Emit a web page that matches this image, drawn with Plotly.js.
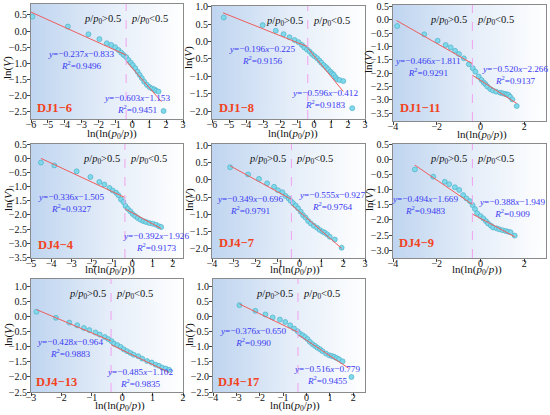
<!DOCTYPE html>
<html><head><meta charset="utf-8">
<script src="https://cdn.plot.ly/plotly-3.0.1.min.js"></script>
<style>body{margin:0;background:#fff}#chart{width:550px;height:415px}</style>
</head><body><div id="chart"></div>
<script>
// ---------- data ----------
const panelNames = ['DJ1−6','DJ1−8','DJ1−11','DJ4−4','DJ4−7','DJ4−9','DJ4−13','DJ4−17'];

const x_DJ1_6 = [-5.92,-3.82,-2.60,-1.95,-1.51,-1.25,-1.02,-0.82,-0.66,-0.52,-0.36,-0.23,-0.09,0.03,0.17,0.31,0.43,0.56,0.70,0.86,1.02,1.16,1.30,1.41,1.55,1.85];
const y_DJ1_6 = [0.45,0.14,-0.10,-0.25,-0.38,-0.43,-0.50,-0.59,-0.67,-0.74,-0.81,-0.90,-0.98,-1.06,-1.15,-1.26,-1.36,-1.46,-1.57,-1.67,-1.74,-1.78,-1.81,-1.85,-1.88,-2.48];

const x_DJ1_8 = [-5.31,-3.02,-2.25,-1.79,-1.44,-1.14,-0.91,-0.71,-0.57,-0.41,-0.26,-0.12,0.02,0.18,0.32,0.43,0.57,0.71,0.83,0.97,1.07,1.16,1.26,1.36,1.50,1.72,2.25];
const y_DJ1_8 = [0.69,0.47,0.31,0.21,0.12,0.04,-0.02,-0.10,-0.17,-0.23,-0.29,-0.36,-0.42,-0.48,-0.55,-0.61,-0.68,-0.74,-0.80,-0.87,-0.92,-0.96,-1.03,-1.09,-1.11,-1.14,-1.92];

const x_DJ1_11 = [-3.81,-2.57,-1.96,-1.59,-1.36,-1.16,-0.98,-0.76,-0.53,-0.35,-0.23,-0.08,0.05,0.15,0.23,0.32,0.45,0.57,0.72,0.91,1.01,1.13,1.21,1.28,1.36,1.46,1.66];
const y_DJ1_11 = [-0.23,-0.54,-0.78,-0.94,-1.03,-1.16,-1.28,-1.44,-1.66,-1.81,-1.94,-2.12,-2.25,-2.35,-2.41,-2.50,-2.59,-2.65,-2.69,-2.73,-2.75,-2.78,-2.79,-2.81,-2.88,-2.98,-3.23];

const x_DJ4_4 = [-4.51,-3.85,-2.75,-2.07,-1.63,-1.38,-1.13,-0.97,-0.80,-0.69,-0.56,-0.44,-0.34,-0.23,-0.10,0.02,0.14,0.27,0.40,0.55,0.68,0.84,1.01,1.17,1.31,1.42];
const y_DJ4_4 = [-0.14,-0.24,-0.45,-0.65,-0.83,-0.92,-1.04,-1.13,-1.21,-1.30,-1.45,-1.54,-1.68,-1.78,-1.87,-1.97,-2.04,-2.11,-2.17,-2.22,-2.25,-2.29,-2.31,-2.35,-2.40,-2.43];

const x_DJ4_7 = [-3.17,-2.35,-1.85,-1.48,-1.16,-0.98,-0.78,-0.63,-0.49,-0.40,-0.29,-0.17,-0.06,0.06,0.17,0.28,0.40,0.52,0.66,0.81,0.93,1.06,1.16,1.27,1.39,1.62,1.93];
const y_DJ4_7 = [0.37,0.16,0.03,-0.10,-0.20,-0.30,-0.36,-0.47,-0.54,-0.61,-0.68,-0.75,-0.83,-0.93,-1.03,-1.10,-1.20,-1.27,-1.34,-1.40,-1.46,-1.51,-1.54,-1.59,-1.66,-1.74,-1.98];

const x_DJ4_9 = [-3.00,-2.16,-1.63,-1.43,-1.17,-0.97,-0.79,-0.64,-0.48,-0.36,-0.25,-0.15,0.00,0.13,0.25,0.35,0.48,0.58,0.74,0.86,1.01,1.16,1.27,1.38,1.57];
const y_DJ4_9 = [-0.33,-0.57,-0.74,-0.82,-0.92,-1.01,-1.18,-1.29,-1.38,-1.51,-1.64,-1.78,-1.87,-1.95,-2.04,-2.12,-2.19,-2.25,-2.28,-2.31,-2.34,-2.37,-2.39,-2.41,-2.52];

const x_DJ4_13 = [-2.82,-2.18,-1.74,-1.48,-1.26,-1.08,-0.88,-0.74,-0.57,-0.46,-0.35,-0.27,-0.16,-0.05,0.05,0.16,0.27,0.38,0.53,0.66,0.82,0.97,1.10,1.21,1.32,1.43,1.54];
const y_DJ4_13 = [0.17,-0.03,-0.19,-0.28,-0.37,-0.44,-0.52,-0.59,-0.67,-0.74,-0.81,-0.89,-0.94,-1.00,-1.08,-1.14,-1.20,-1.26,-1.31,-1.39,-1.47,-1.52,-1.59,-1.63,-1.69,-1.72,-1.76];

const x_DJ4_17 = [-2.87,-2.19,-1.76,-1.45,-1.14,-0.91,-0.70,-0.53,-0.38,-0.28,-0.17,-0.06,0.04,0.14,0.26,0.37,0.47,0.58,0.68,0.83,0.97,1.08,1.18,1.28,1.39,1.54,1.92];
const y_DJ4_17 = [0.39,0.20,0.08,-0.02,-0.09,-0.17,-0.28,-0.39,-0.48,-0.56,-0.61,-0.67,-0.74,-0.83,-0.91,-0.97,-1.03,-1.08,-1.14,-1.22,-1.28,-1.30,-1.33,-1.37,-1.41,-1.48,-2.00];

const xData = [x_DJ1_6, x_DJ1_8, x_DJ1_11, x_DJ4_4, x_DJ4_7, x_DJ4_9, x_DJ4_13, x_DJ4_17];
const yData = [y_DJ1_6, y_DJ1_8, y_DJ1_11, y_DJ4_4, y_DJ4_7, y_DJ4_9, y_DJ4_13, y_DJ4_17];

// linear fits (p/p0 > 0.5 : low side; p/p0 < 0.5 : high side)
const slopeLow = [-0.237,-0.196,-0.466,-0.336,-0.349,-0.494,-0.428,-0.376];
const interceptLow = [-0.833,-0.225,-1.811,-1.505,-0.696,-1.669,-0.964,-0.650];
const r2Low = ['0.9496','0.9156','0.9291','0.9327','0.9791','0.9483','0.9883','0.990'];
const slopeHigh = [-0.603,-0.596,-0.520,-0.392,-0.555,-0.388,-0.485,-0.516];
const interceptHigh = [-1.153,-0.412,-2.266,-1.926,-0.927,-1.949,-1.102,-0.779];
const r2High = ['0.9451','0.9183','0.9137','0.9173','0.9764','0.909','0.9835','0.9455'];
const fitStart = [-6.0,-5.35,-3.84,-4.51,-3.17,-3.0,-2.82,-2.87];
const fitEnd = [1.72,1.72,1.66,1.42,1.93,1.57,1.54,1.8];

const xRanges = [[-6,3],[-6,3],[-4,3],[-5,2.5],[-4,3],[-4,3],[-3,2],[-4,2.5]];
const yRanges = [[-2.73,0.84],[-2.23,1.02],[-3.79,0.56],[-3.53,0.52],[-2.28,1.05],[-3.26,0.51],[-2.5,1.26],[-2.5,1.26]];
const xDticks = [1,1,2,1,1,2,1,1];

const xTitleText = 'ln(ln(<i>p</i><sub>0</sub>/<i>p</i>))';
const yTitleText = 'ln(<i>V</i>)';

const boundary = Math.log(Math.log(2)); // p/p0 = 0.5

// ---------- layout geometry (pixels) ----------
const W = 550, H = 415;
const boxes = [ // [left, right, top, bottom]
  [31,183,4,119],[212,365,6,119],[393,546,5,121],
  [31,183,144,258],[212,365,144,258],[393,546,144,258],
  [31,183,279,392],[213,365,279,392]
];
const eqLowPos = [[80.5,60],[261.7,55],[428.3,67],[70.5,202.5],[249.5,204.5],[425,205],[70,348],[253,337]];
const eqHighPos = [[137,104],[325,99],[515,74.5],[155.5,242],[332,201.3],[511.7,208],[140,377.5],[326.7,375]];
const labelPos = [[35,108.3],[216.7,108.3],[397.7,108.3],[36,245],[216.7,243.3],[396.7,243.3],[34.3,381.7],[215.7,381.7]];
const xTitlePos = [[112,134],[293,134],[482,135],[110,270],[295,270],[477,270],[120,406],[295,406]];
const yTitlePos = [[8,68],[189,58],[369,62],[8,200],[189,200],[369,200],[8,335],[189,335]];

// gradient image
const cv = document.createElement('canvas'); cv.width = 300; cv.height = 4;
const ctx = cv.getContext('2d');
const g = ctx.createLinearGradient(0,0,300,0);
g.addColorStop(0,'#bfd5f0'); g.addColorStop(0.5,'#e4edf9'); g.addColorStop(1,'#ffffff');
ctx.fillStyle = g; ctx.fillRect(0,0,300,4);
const gradURL = cv.toDataURL('image/png');

const FONT = 'Liberation Serif, Times New Roman, serif';
const fmt = v => (v < 0 ? '−' : '+') + Math.abs(v).toFixed(3);
const eqText = (s, b, r) => '<i>y</i>=' + fmt(s).replace('+','') + '<i>x</i>' + fmt(b) + '<br><i>R</i><sup>2</sup>=' + r;

const traces = [];
const layout = {
  width: W, height: H,
  margin: {l:0, r:0, t:0, b:0},
  paper_bgcolor: '#ffffff', plot_bgcolor: 'rgba(0,0,0,0)',
  showlegend: false,
  font: {family: FONT, size: 10, color: '#111'},
  images: [], shapes: [], annotations: []
};

for (let i = 0; i < 8; i++) {
  const k = i === 0 ? '' : String(i + 1);
  const xa = 'x' + k, ya = 'y' + k;
  const [l, r, t, b] = boxes[i];
  const xd = [l / W, r / W], yd = [1 - b / H, 1 - t / H];

  layout['xaxis' + k] = {
    domain: xd, anchor: ya, range: xRanges[i], dtick: xDticks[i], tick0: 0,
    showline: true, mirror: true, linecolor: '#8a8a8a', linewidth: 1,
    ticks: 'outside', ticklen: 3, tickcolor: '#444', showgrid: false, zeroline: false,
    ticklabelstandoff: -7,
    tickfont: {family: FONT, size: 10, color: '#111'}
  };
  layout['yaxis' + k] = {
    domain: yd, anchor: xa, range: yRanges[i], dtick: 0.5, tick0: 0, tickformat: '.1f',
    showline: true, mirror: true, linecolor: '#8a8a8a', linewidth: 1,
    ticks: 'outside', ticklen: 3, tickcolor: '#444', showgrid: false, zeroline: false,
    ticklabelstandoff: -2,
    tickfont: {family: FONT, size: 10, color: '#111'}
  };

  layout.images.push({
    source: gradURL, xref: 'paper', yref: 'paper',
    x: xd[0], y: yd[1], sizex: xd[1] - xd[0], sizey: yd[1] - yd[0],
    sizing: 'stretch', xanchor: 'left', yanchor: 'top', layer: 'below'
  });

  layout.shapes.push({
    type: 'line', xref: xa, yref: ya + ' domain', x0: boundary, x1: boundary, y0: 0, y1: 1,
    line: {color: '#f2a2ee', width: 1, dash: 'dash'}
  });

  traces.push({
    type: 'scatter', mode: 'markers', x: xData[i], y: yData[i], xaxis: xa, yaxis: ya,
    marker: {size: 5, color: '#7fd9ea', line: {color: '#45a9c2', width: 0.6}},
    cliponaxis: false
  });
  const fx1 = [fitStart[i], boundary];
  traces.push({
    type: 'scatter', mode: 'lines', x: fx1, y: fx1.map(v => slopeLow[i] * v + interceptLow[i]),
    xaxis: xa, yaxis: ya, line: {color: '#ee5d5d', width: 1}
  });
  const fx2 = [boundary, fitEnd[i]];
  traces.push({
    type: 'scatter', mode: 'lines', x: fx2, y: fx2.map(v => slopeHigh[i] * v + interceptHigh[i]),
    xaxis: xa, yaxis: ya, line: {color: '#ee5d5d', width: 1}
  });

  // axis titles
  layout.annotations.push({
    xref: 'paper', yref: 'paper', x: xTitlePos[i][0] / W, y: 1 - xTitlePos[i][1] / H,
    xanchor: 'center', yanchor: 'middle', showarrow: false,
    text: xTitleText, font: {family: FONT, size: 11, color: '#111'}
  });
  layout.annotations.push({
    xref: 'paper', yref: 'paper', x: yTitlePos[i][0] / W, y: 1 - yTitlePos[i][1] / H,
    xanchor: 'center', yanchor: 'middle', showarrow: false, textangle: -90,
    text: yTitleText, font: {family: FONT, size: 11, color: '#111'}
  });

  // region labels
  layout.annotations.push({
    xref: xa, yref: ya + ' domain', x: boundary, y: 1, xanchor: 'right', yanchor: 'top',
    xshift: -3, yshift: -7, showarrow: false,
    text: '<i>p</i>/<i>p</i><sub>0</sub>&gt;0.5', font: {family: FONT, size: 10.5, color: '#111'}
  });
  layout.annotations.push({
    xref: xa, yref: ya + ' domain', x: boundary, y: 1, xanchor: 'left', yanchor: 'top',
    xshift: 3, yshift: -7, showarrow: false,
    text: '<i>p</i>/<i>p</i><sub>0</sub>&lt;0.5', font: {family: FONT, size: 10.5, color: '#111'}
  });
  // equations
  layout.annotations.push({
    xref: 'paper', yref: 'paper', x: eqLowPos[i][0] / W, y: 1 - eqLowPos[i][1] / H,
    xanchor: 'center', yanchor: 'middle', align: 'center', showarrow: false,
    text: eqText(slopeLow[i], interceptLow[i], r2Low[i]),
    font: {family: FONT, size: 9.2, color: '#3a3af2'}
  });
  layout.annotations.push({
    xref: 'paper', yref: 'paper', x: eqHighPos[i][0] / W, y: 1 - eqHighPos[i][1] / H,
    xanchor: 'center', yanchor: 'middle', align: 'center', showarrow: false,
    text: eqText(slopeHigh[i], interceptHigh[i], r2High[i]),
    font: {family: FONT, size: 9.2, color: '#3a3af2'}
  });
  // panel label
  layout.annotations.push({
    xref: 'paper', yref: 'paper', x: labelPos[i][0] / W, y: 1 - labelPos[i][1] / H,
    xanchor: 'left', yanchor: 'middle', showarrow: false,
    text: '<b>' + panelNames[i] + '</b>', font: {family: FONT, size: 12.5, color: '#f2431e'}
  });
}

Plotly.newPlot('chart', traces, layout, {staticPlot: true, displayModeBar: false});
</script>
</body></html>
